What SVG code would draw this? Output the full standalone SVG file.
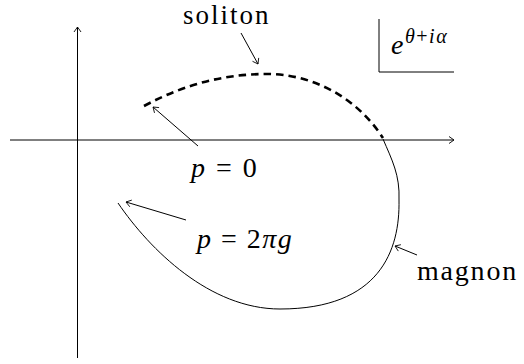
<svg xmlns="http://www.w3.org/2000/svg" width="524" height="364" viewBox="0 0 524 364">
<style>
.ln{fill:none;stroke:#000;stroke-width:1}
.hd{fill:none;stroke:#000;stroke-width:0.9}
</style>
<g id="axes">
<line class="ln" x1="10" y1="140" x2="454" y2="140"/>
<polyline class="hd" points="449,136.5 454,140 449,143.5"/>
<line class="ln" x1="77.5" y1="358" x2="77.5" y2="27"/>
<polyline class="hd" points="74,32 77.5,27 81,32"/>
</g>
<g id="frame">
<polyline class="ln" points="379,19 379,72 454,72" stroke="#444"/>
<text x="391" y="54" font-family="'Liberation Serif', serif" font-style="italic" font-size="28">e</text>
<text x="405" y="43" font-family="'Liberation Serif', serif" font-style="italic" font-size="20" letter-spacing="1.5">θ<tspan font-style="normal">+</tspan>iα</text>
</g>
<g id="soliton-curve">
<path d="M144,106 C185,84 225,74 267,74 C310,74 355,95 383,138" fill="none" stroke="#000" stroke-width="2.6" stroke-dasharray="7.5,5"/>
</g>
<g id="magnon-curve">
<path class="ln" d="M383,139 C392,160 400,175 399,200 C400,250 380,309 280,309 C210,309 150,250 118,203"/>
</g>
<g id="connectors">
<line class="ln" x1="241" y1="33" x2="258" y2="64"/>
<polyline class="hd" points="252.5,61.3 258,64 258.7,57.9"/>
<line class="ln" x1="198" y1="146" x2="153" y2="107"/>
<polyline class="hd" points="159.1,107.6 153,107 154.5,112.9"/>
<line class="ln" x1="186" y1="220" x2="126" y2="202"/>
<polyline class="hd" points="131.8,200.1 126,202 129.8,206.8"/>
<line class="ln" x1="417" y1="255" x2="395" y2="246"/>
<polyline class="hd" points="400.9,244.7 395,246 398.3,251.1"/>
</g>
<g id="label-soliton">
<text x="183" y="24" font-family="'Liberation Serif', serif" font-size="27" letter-spacing="2">soliton</text>
</g>
<g id="label-magnon">
<text x="417" y="280" font-family="'Liberation Serif', serif" font-size="28" letter-spacing="1.8">magnon</text>
</g>
<g id="label-p0">
<text x="191" y="177" font-family="'Liberation Serif', serif" font-size="28" letter-spacing="2"><tspan font-style="italic">p</tspan> = 0</text>
</g>
<g id="label-p2pig">
<text x="197" y="248" font-family="'Liberation Serif', serif" font-size="28" letter-spacing="1.5"><tspan font-style="italic">p</tspan> = 2<tspan font-style="italic">πg</tspan></text>
</g>
</svg>
